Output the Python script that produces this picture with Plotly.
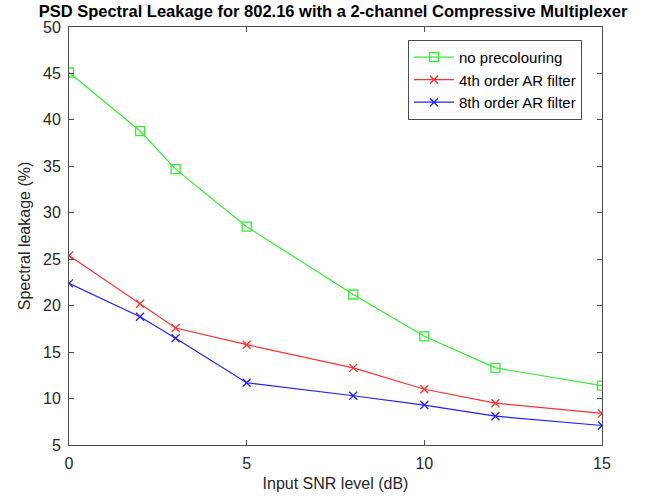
import plotly.graph_objects as go

# Input SNR levels (dB)
snr_db = [0, 2, 3, 5, 8, 10, 12, 15]

# Spectral leakage (%) for each precolouring option
no_precolouring = [45.1, 38.8, 34.7, 28.5, 21.2, 16.7, 13.3, 11.4]
ar4_filter = [25.4, 20.2, 17.6, 15.8, 13.3, 11.0, 9.5, 8.4]
ar8_filter = [22.4, 18.8, 16.5, 11.7, 10.3, 9.3, 8.1, 7.1]

series_names = ["no precolouring", "4th order AR filter", "8th order AR filter"]

x_ticks = [0, 5, 10, 15]
y_ticks = [5, 10, 15, 20, 25, 30, 35, 40, 45, 50]

axis_color = "#4d4d4d"
text_color = "#262626"
font_family = "Liberation Sans, Arial, sans-serif"

fig = go.Figure()

fig.add_trace(go.Scatter(
    x=snr_db, y=no_precolouring, name=series_names[0],
    mode="lines+markers",
    line=dict(color="#33ee33", width=1.2),
    marker=dict(symbol="square-open", size=9, color="#33ee33",
                line=dict(width=1.3, color="#33ee33")),
))
fig.add_trace(go.Scatter(
    x=snr_db, y=ar4_filter, name=series_names[1],
    mode="lines+markers",
    line=dict(color="#ff3030", width=1.2),
    marker=dict(symbol="x-thin-open", size=8, color="#ff3030",
                line=dict(width=1.3, color="#ff3030")),
))
fig.add_trace(go.Scatter(
    x=snr_db, y=ar8_filter, name=series_names[2],
    mode="lines+markers",
    line=dict(color="#2020ff", width=1.2),
    marker=dict(symbol="x-thin-open", size=8, color="#2020ff",
                line=dict(width=1.3, color="#2020ff")),
))

axis_common = dict(
    showgrid=False, zeroline=False,
    showline=True, linecolor=axis_color, linewidth=1, mirror="ticks",
    ticks="inside", ticklen=5, tickcolor=axis_color, tickwidth=1,
    tickfont=dict(size=16, color=text_color, family=font_family),
)

fig.update_xaxes(
    range=[0, 15], tickvals=x_ticks, ticklabelstandoff=4,
    title=dict(text="Input SNR level (dB)", standoff=6,
               font=dict(size=16, color=text_color, family=font_family)),
    **axis_common,
)
fig.update_yaxes(
    range=[5, 50], tickvals=y_ticks, ticklabelstandoff=4,
    title=dict(text="Spectral leakage (%)", standoff=8,
               font=dict(size=16, color=text_color, family=font_family)),
    **axis_common,
)

fig.update_layout(
    width=666, height=501,
    margin=dict(l=69, r=64, t=27, b=56),
    paper_bgcolor="white", plot_bgcolor="white",
    title=dict(
        text="<b>PSD Spectral Leakage for 802.16 with a 2-channel Compressive Multiplexer</b>",
        x=0.5, xanchor="center", y=0.99, yanchor="top",
        font=dict(size=16.5, color="black", family=font_family),
    ),
    legend=dict(
        x=0.636, y=0.969, xanchor="left", yanchor="top",
        bgcolor="white", bordercolor=axis_color, borderwidth=1,
        font=dict(size=15, color="black", family=font_family),
        tracegroupgap=0, itemwidth=40,
    ),
    showlegend=True,
)

fig.write_html("out.html")
